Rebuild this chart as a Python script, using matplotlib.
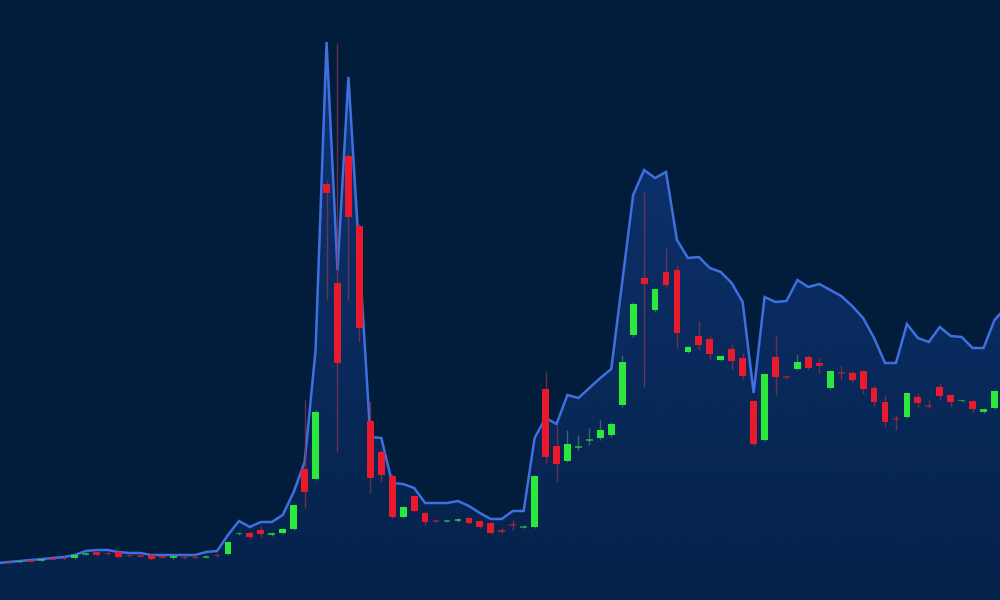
import numpy as np
import matplotlib
matplotlib.use("Agg")
import matplotlib.pyplot as plt
from matplotlib.colors import to_rgba

# ---------------- data (price units) ----------------
# trend / envelope line, one value per candle slot (first starts at the left edge,
# last one runs off the right edge)
line_vals = [37, 38, 39, 40, 41, 42, 43, 45, 49, 50, 50, 48, 47, 47, 45, 45, 45, 45, 45, 48, 49,
             65, 79, 73, 78, 78, 85, 108, 138, 250, 558, 330, 523, 343, 163, 162, 117, 116, 112, 97, 97,
             97, 99, 94, 87, 81, 81, 89, 89, 162, 182, 176, 205, 202, 212, 222, 231, 318, 405, 430, 422,
             428, 360, 342, 343, 332, 328, 317, 298, 207, 303, 298, 299, 320, 313, 316, 310, 304, 294, 282, 262,
             237, 237, 276, 262, 258, 273, 264, 263, 252, 252, 280, 292]

opens = [38.5, 38, 40, 39.5, 42, 42.5, 42, 45.5, 48, 47.5, 48, 45.5, 45, 45, 44, 42, 43.5, 43.5, 42.5, 45.5,
         46, 66, 67, 70, 65, 67, 71, 131, 121, 416, 317, 444, 374, 179, 148, 124, 83, 104, 87, 79.5,
         78.5, 79, 82, 79, 77, 70.5, 75.5, 72.5, 73, 211, 154, 139, 152.5, 159.5, 162, 165, 195, 265, 322, 290,
         328, 330, 248, 264, 261, 240, 251, 242, 199, 160, 243, 223.5, 231, 243, 237, 212, 227.5, 227, 229, 212,
         198, 181.5, 183, 203, 194.5, 213, 205, 199, 199, 188, 192]
closes = [37, 39.5, 38.5, 41, 40.5, 41, 45, 47, 45, 46, 43, 44, 43.5, 41, 42.5, 44.5, 42, 42, 44, 44,
          58, 67.5, 63, 66, 67, 71, 95, 108, 188, 407, 237, 383, 272, 122, 125, 83, 93, 89, 78, 78.5,
          79.5, 81, 77, 73, 67, 68.5, 74.5, 73.5, 124, 143, 136, 156, 154, 161, 170, 176, 238, 296, 316, 311,
          315, 267, 253, 255, 246, 244, 239, 224, 156, 226, 223, 222.5, 238, 232, 234, 229, 226.5, 220, 211, 198,
          178, 180.5, 207, 197, 193.5, 204, 198, 200, 191, 191, 209]
highs = [40, 40, 41, 42, 43, 44, 46, 48, 49, 49, 49, 46, 46, 46, 45, 45, 45, 45, 45, 47,
         59, 68, 69, 74, 68, 72, 96, 200, 190, 420, 557, 446, 376, 199, 150, 126, 94, 105, 88, 80,
         80, 82, 83, 80, 78, 72, 80, 75, 125, 228, 175, 170, 165, 172, 180, 178, 245, 298, 408, 312,
         352, 335, 254, 279, 265, 245, 256, 247, 200, 227, 265, 225, 246, 245, 242, 230, 235, 229, 230, 215,
         205, 185, 208, 207, 200, 217, 206, 201, 200, 192, 210]
lows = [36, 37, 38, 39, 40, 40, 41, 45, 44, 45, 42, 43, 43, 40, 42, 41, 41, 41, 42, 43,
        45, 65, 61, 63, 64, 66, 70, 92, 120, 300, 148, 300, 258, 107, 118, 82, 82, 88, 75, 78,
        78, 78, 76, 72, 66, 67, 70, 72, 72, 137, 118, 138, 150, 155, 160, 163, 193, 263, 213, 288,
        313, 252, 247, 250, 240, 239, 230, 221, 154, 159, 205, 221, 230, 230, 227, 211, 220, 218, 206, 194,
        173, 170, 182, 193, 192, 200, 193, 198, 187, 187, 191]

# ---------------- style ----------------
BG = "#021c3b"
LINE = "#3f6fe0"
UP = "#2ae83c"
DOWN = "#ea1a2c"
UP_WICK = "#4f7d6c"
DOWN_WICK = "#8a3553"

W, H = 1000, 600
fig = plt.figure(figsize=(W / 100, H / 100), dpi=100, facecolor=BG)
ax = fig.add_axes([0, 0, 1, 1])
ax.set_facecolor(BG)
for s in ax.spines.values():
    s.set_visible(False)
ax.set_xticks([])
ax.set_yticks([])

n = len(opens)
x_c = np.arange(n)
x_l = np.arange(len(line_vals)) - 1
ax.set_xlim(-0.82, 90.5)
ax.set_ylim(0, 600)

# gradient fill below the line
poly = ax.fill_between(x_l, line_vals, 0, color="none", lw=0)
grad = np.zeros((256, 1, 4))
base = np.array(to_rgba("#1a4cab"))
t = np.linspace(0, 1, 256)  # 0 bottom -> 1 top
grad[:, 0, :3] = base[:3]
grad[:, 0, 3] = 0.13 + 0.40 * t
img = ax.imshow(grad, extent=[-1.5, 91, 0, 600], origin="lower", aspect="auto", zorder=1,
                interpolation="bicubic")
img.set_clip_path(poly.get_paths()[0], transform=ax.transData)

ax.plot(x_l, line_vals, color=LINE, lw=1.8, zorder=3, solid_joinstyle="miter")

# candles
bw = 0.62
for i in range(n):
    o, c, h, l = opens[i], closes[i], highs[i], lows[i]
    up = c >= o
    body_h = abs(c - o)
    a = float(np.clip(0.3 + body_h / 5.0, 0.3, 1.0))
    ax.vlines(x_c[i], l, h, color=UP_WICK if up else DOWN_WICK, lw=1.0, alpha=0.75, zorder=4)
    ax.bar(x_c[i], max(body_h, 1.2), bottom=min(o, c), width=bw, color=UP if up else DOWN,
           alpha=a, zorder=5, linewidth=0)

fig.savefig("out.png", dpi=100, facecolor=BG)
